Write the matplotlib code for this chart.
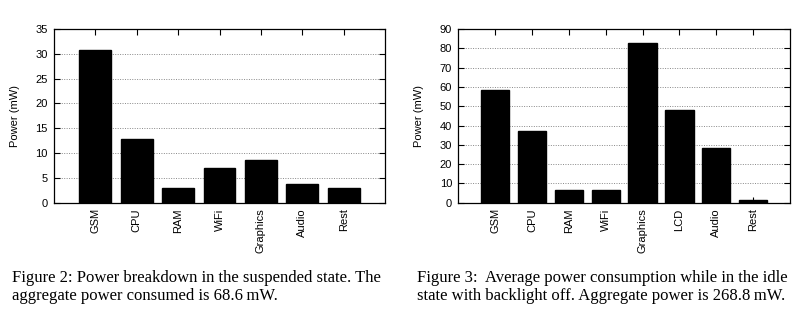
import numpy as np
import matplotlib.pyplot as plt

# Figure 2: suspended state
cats_a = ['GSM', 'CPU', 'RAM', 'WiFi', 'Graphics', 'Audio', 'Rest']
vals_a = [30.8, 12.8, 2.9, 6.9, 8.7, 3.8, 2.9]
# Figure 3: idle state, backlight off
cats_b = ['GSM', 'CPU', 'RAM', 'WiFi', 'Graphics', 'LCD', 'Audio', 'Rest']
vals_b = [58.3, 36.9, 6.5, 6.5, 82.5, 48.0, 28.6, 1.6]

cap_a = ("Figure 2: Power breakdown in the suspended state. The\n"
         "aggregate power consumed is 68.6\u2009mW.")
cap_b = ("Figure 3:  Average power consumption while in the idle\n"
         "state with backlight off. Aggregate power is 268.8\u2009mW.")

plt.rcParams['font.family'] = ['Liberation Sans', 'DejaVu Sans']

fig = plt.figure(figsize=(7.97, 3.22), dpi=100)
ax1 = fig.add_axes([0.0678, 0.3705, 0.4153, 0.5394])
ax2 = fig.add_axes([0.5750, 0.3705, 0.4162, 0.5394])


def draw(ax, cats, vals, ymax, step):
    x = np.arange(len(cats))
    ax.bar(x, vals, 0.77, color='black', edgecolor='black', zorder=3)
    ax.set_xlim(-1, len(cats))
    ax.set_ylim(0, ymax)
    ax.set_yticks(np.arange(0, ymax + 1, step))
    ax.set_xticks(x)
    ax.set_xticklabels(cats, rotation=90, fontsize=8)
    ax.tick_params(axis='y', labelsize=8, direction='in', right=True,
                   length=4, width=0.8, pad=4.5)
    ax.tick_params(axis='x', direction='in', top=True, length=4, width=0.8,
                   pad=4)
    for yv in np.arange(step, ymax, step):
        ax.axhline(yv, color='#888888', lw=0.7, ls=(0, (1, 1.5)), zorder=1)
    ax.set_ylabel('Power (mW)', fontsize=8, labelpad=11)
    for s in ax.spines.values():
        s.set_linewidth(0.9)


draw(ax1, cats_a, vals_a, 35, 5)
draw(ax2, cats_b, vals_b, 90, 10)

serif = ['Liberation Serif', 'DejaVu Serif']
fig.text(12 / 797, 1 - 270 / 322, cap_a, family=serif,
         fontsize=12, va='top', ha='left', linespacing=1.2)
fig.text(417 / 797, 1 - 270 / 322, cap_b, family=serif,
         fontsize=12, va='top', ha='left', linespacing=1.2)

fig.savefig('out.png', dpi=100)
